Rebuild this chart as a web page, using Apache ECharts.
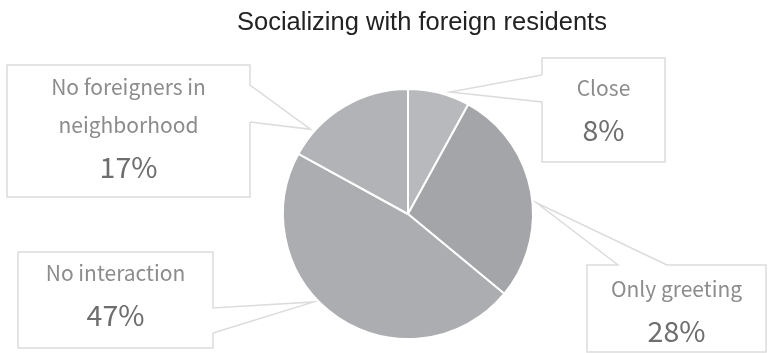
<!DOCTYPE html>
<html>
<head>
<meta charset="utf-8">
<script src="https://cdn.jsdelivr.net/npm/echarts@6/dist/echarts.min.js"></script>
<style>
html, body { margin: 0; padding: 0; background: #fff; }
#chart { width: 770px; height: 353px; }
</style>
</head>
<body>
<div id="chart"></div>
<script>
var title = "Socializing with foreign residents"
var categories = ["Close", "Only greeting", "No interaction", "No foreigners in\nneighborhood"]
var shares = [8, 28, 47, 17]
var sliceColors = ["#b8b9bc", "#a4a5a8", "#acadb0", "#b2b3b6"]

var pieCenter = [408, 214]
var pieRadius = 125

// callout boxes: box = [left, top, right, bottom], side the pointer leaves from
// (0 top, 1 right, 2 bottom, 3 left), gap = the two points on that side in clockwise order,
// apex = angle on the pie rim (deg, clockwise from 12 o'clock), textY = top of the first text line
var callouts = [
    { box: [542, 58, 665, 162], side: 3, gap: [[542, 102], [542, 75]], apex: 19, textY: 69 },
    { box: [587, 265, 766, 352], side: 0, gap: [[618, 265], [667, 265]], apex: 85, textY: 270 },
    { box: [18, 252, 213, 348], side: 1, gap: [[213, 308], [213, 333]], apex: 227, textY: 254 },
    { box: [7, 65, 250, 197], side: 1, gap: [[250, 85], [250, 122]], apex: 311, textY: 68 }
]

function outline(c) {
    let l = c.box[0], t = c.box[1], r = c.box[2], b = c.box[3]
    let corners = [[l, t], [r, t], [r, b], [l, b]]
    let s = c.side
    let rad = c.apex * Math.PI / 180
    let apex = [pieCenter[0] + (pieRadius + 4) * Math.sin(rad), pieCenter[1] - (pieRadius + 4) * Math.cos(rad)]
    return [c.gap[1], corners[(s + 1) % 4], corners[(s + 2) % 4], corners[(s + 3) % 4], corners[s], c.gap[0], apex, c.gap[1]]
}

let chart = echarts.init(document.getElementById("chart"))
chart.setOption({
    animation: false,
    title: {
        text: title,
        left: 237,
        top: 9,
        padding: 0,
        textStyle: {
            fontFamily: "Liberation Sans",
            fontSize: 25.5,
            lineHeight: 28,
            fontWeight: "normal",
            color: "#222"
        }
    },
    series: [{
        type: "pie",
        center: pieCenter,
        radius: pieRadius,
        startAngle: 90,
        clockwise: true,
        data: categories.map((name, i) => ({
            name: name,
            value: shares[i],
            itemStyle: { color: sliceColors[i] }
        })),
        itemStyle: {
            borderColor: "#fff",
            borderWidth: 2
        },
        label: {
            show: true,
            formatter: "{n|{b}}\n{p|{c}%}",
            align: "center",
            rich: {
                n: {
                    fontFamily: "Noto Sans CJK JP",
                    fontSize: 21,
                    lineHeight: 38,
                    color: "#8c8c8c",
                    align: "center"
                },
                p: {
                    fontFamily: "Noto Sans CJK JP",
                    fontSize: 28.5,
                    lineHeight: 46,
                    color: "#6e6e6e",
                    align: "center"
                }
            }
        },
        labelLine: {
            show: true,
            smooth: false,
            lineStyle: {
                color: "#dcdcdc",
                width: 1.5
            }
        },
        labelLayout: function (params) {
            let c = callouts[params.dataIndex]
            return {
                x: (c.box[0] + c.box[2]) / 2,
                y: c.textY,
                align: "center",
                verticalAlign: "top",
                labelLinePoints: outline(c)
            }
        }
    }]
})
</script>
</body>
</html>
